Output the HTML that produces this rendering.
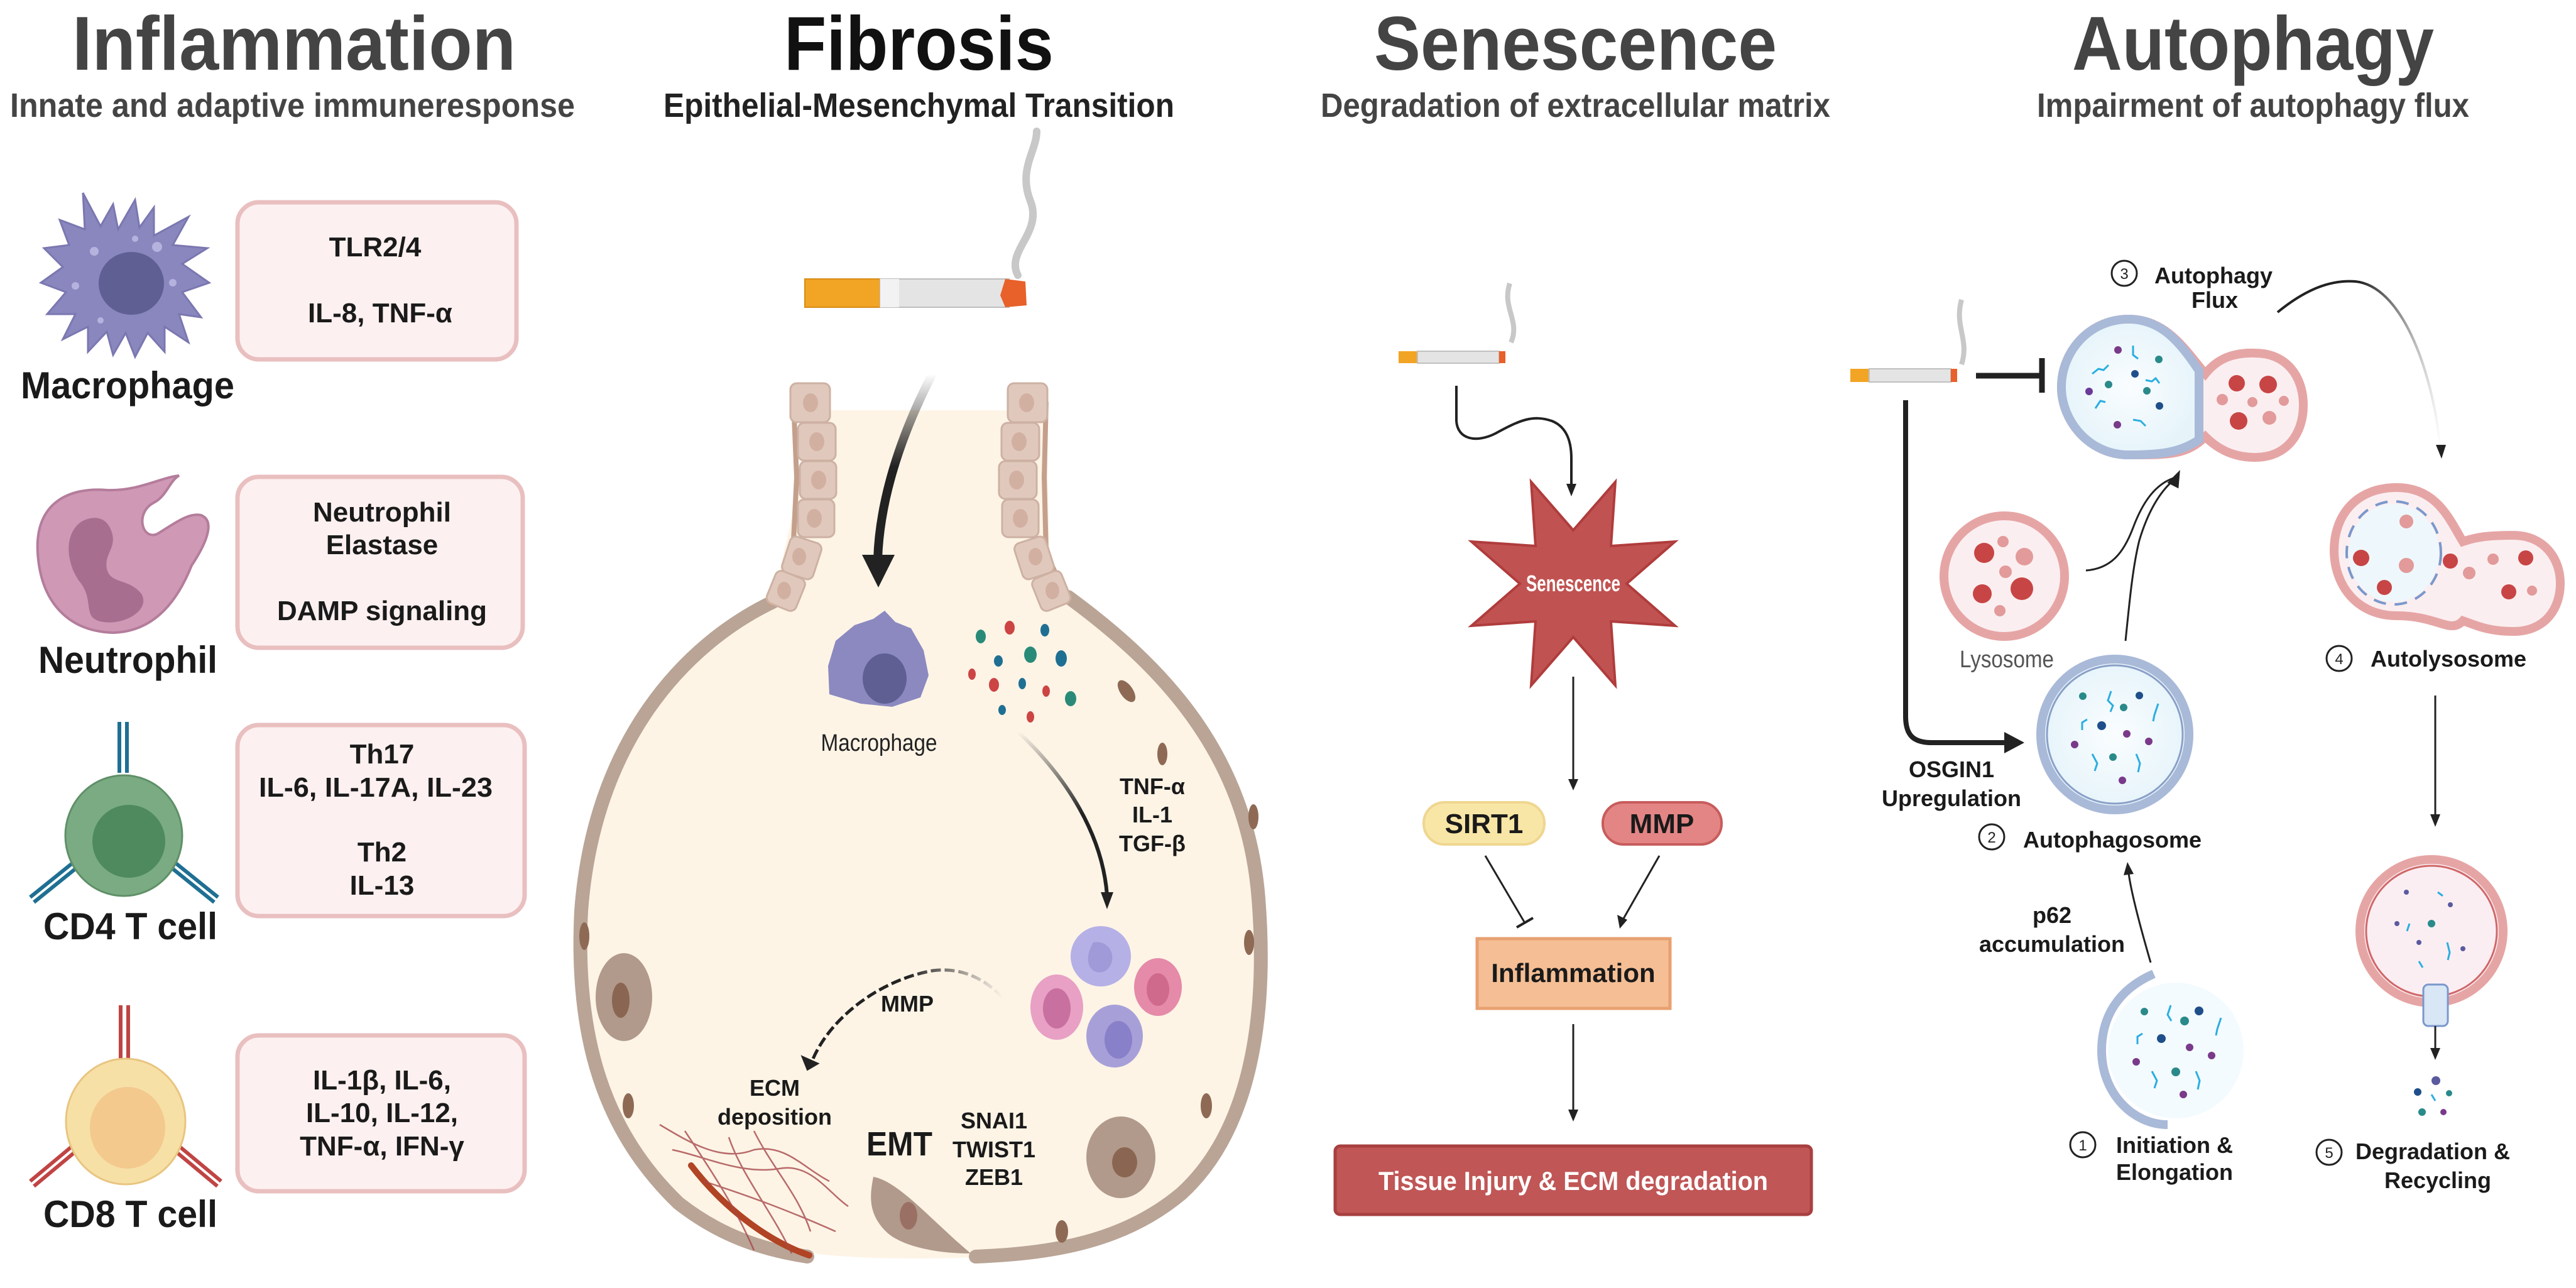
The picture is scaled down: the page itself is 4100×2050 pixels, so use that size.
<!DOCTYPE html>
<html><head><meta charset="utf-8"><style>
html,body{margin:0;padding:0;background:#fff}
svg{display:block}
text{font-family:"Liberation Sans",sans-serif}
.b{font-weight:bold;fill:#1a1a1a}
</style></head><body>
<svg width="4100" height="2050" viewBox="0 0 4100 2050" xmlns="http://www.w3.org/2000/svg">
<defs>
<linearGradient id="fadeA" x1="0" y1="0" x2="0" y2="1"><stop offset="0" stop-color="#222" stop-opacity="0"/><stop offset="0.5" stop-color="#222"/></linearGradient>
<linearGradient id="fadeB" x1="1" y1="0" x2="0" y2="0"><stop offset="0" stop-color="#222" stop-opacity="0"/><stop offset="0.5" stop-color="#222"/></linearGradient>
<radialGradient id="blueIn"><stop offset="0" stop-color="#fafdff"/><stop offset="1" stop-color="#e6f4fa"/></radialGradient>
</defs>

<!-- ===== TITLES ===== -->
<text x="115" y="111" font-size="122" font-weight="bold" fill="#444" textLength="706" lengthAdjust="spacingAndGlyphs">Inflammation</text>
<text x="16" y="186" font-size="54" font-weight="bold" fill="#444" textLength="899" lengthAdjust="spacingAndGlyphs">Innate and adaptive immuneresponse</text>
<text x="1248" y="111" font-size="122" font-weight="bold" fill="#111" textLength="429" lengthAdjust="spacingAndGlyphs">Fibrosis</text>
<text x="1056" y="186" font-size="54" font-weight="bold" fill="#222" textLength="813" lengthAdjust="spacingAndGlyphs">Epithelial-Mesenchymal Transition</text>
<text x="2187" y="111" font-size="122" font-weight="bold" fill="#444" textLength="641" lengthAdjust="spacingAndGlyphs">Senescence</text>
<text x="2102" y="186" font-size="54" font-weight="bold" fill="#444" textLength="811" lengthAdjust="spacingAndGlyphs">Degradation of extracellular matrix</text>
<text x="3298" y="111" font-size="122" font-weight="bold" fill="#444" textLength="576" lengthAdjust="spacingAndGlyphs">Autophagy</text>
<text x="3242" y="186" font-size="54" font-weight="bold" fill="#444" textLength="688" lengthAdjust="spacingAndGlyphs">Impairment of autophagy flux</text>

<!-- ===== INFLAMMATION COLUMN ===== -->
<!-- boxes -->
<g fill="#fdf0f0" stroke="#e9bfc0" stroke-width="7">
<rect x="378" y="322" width="444" height="250" rx="34"/>
<rect x="378" y="759" width="454" height="272" rx="34"/>
<rect x="378" y="1154" width="457" height="304" rx="34"/>
<rect x="378" y="1648" width="457" height="248" rx="34"/>
</g>
<g class="b" font-size="44" text-anchor="middle">
<text x="597" y="408">TLR2/4</text>
<text x="605" y="513">IL-8, TNF-α</text>
<text x="608" y="830">Neutrophil</text>
<text x="608" y="882">Elastase</text>
<text x="608" y="987">DAMP signaling</text>
<text x="608" y="1215">Th17</text>
<text x="598" y="1268" textLength="372" lengthAdjust="spacingAndGlyphs">IL-6, IL-17A, IL-23</text>
<text x="608" y="1371">Th2</text>
<text x="608" y="1424">IL-13</text>
<text x="608" y="1734">IL-1β, IL-6,</text>
<text x="608" y="1786">IL-10, IL-12,</text>
<text x="608" y="1839">TNF-α,  IFN-γ</text>
</g>
<g class="b" font-size="60">
<text x="33" y="634" textLength="340" lengthAdjust="spacingAndGlyphs">Macrophage</text>
<text x="61" y="1071" textLength="285" lengthAdjust="spacingAndGlyphs">Neutrophil</text>
<text x="69" y="1495" textLength="277" lengthAdjust="spacingAndGlyphs">CD4 T cell</text>
<text x="69" y="1953" textLength="277" lengthAdjust="spacingAndGlyphs">CD8 T cell</text>
</g>

<!-- macrophage big -->
<g>
<path d="M132,307 L160,360 L180,325 L188,365 L215,318 L222,362 L245,330 L245,375 L300,345 L275,390 L330,395 L290,420 L333,450 L290,465 L320,505 L285,500 L300,545 L262,520 L262,560 L235,530 L215,568 L200,530 L180,565 L170,528 L140,560 L140,520 L100,540 L120,500 L75,500 L105,465 L65,450 L100,425 L70,395 L110,390 L95,350 L135,365 Z" fill="#8a87bf" stroke="#7a77b0" stroke-width="3"/>
<ellipse cx="209" cy="451" rx="52" ry="50" fill="#5f5f94"/>
<g fill="#b5b3dd"><circle cx="150" cy="400" r="7"/><circle cx="250" cy="393" r="8"/><circle cx="120" cy="455" r="6"/><circle cx="275" cy="450" r="6"/><circle cx="215" cy="380" r="5"/><circle cx="160" cy="510" r="5"/></g>
</g>
<!-- neutrophil -->
<g>
<path d="M285,757 C270,765 265,790 245,800 C215,815 225,860 250,850 C275,835 300,815 320,820 C345,830 325,870 305,900 C285,950 250,1005 180,1007 C110,1005 65,960 60,880 C55,800 110,775 170,780 C220,782 255,760 285,757 Z" fill="#cf98b5" stroke="#b47d9b" stroke-width="4"/>
<path d="M130,830 C100,850 105,900 130,930 C150,960 130,985 165,990 C200,995 240,970 225,945 C205,920 175,930 170,905 C165,880 190,870 175,840 C165,820 145,822 130,830 Z" fill="#a86e8f"/>
</g>
<!-- CD4 -->
<g>
<g stroke="#1f6f93" stroke-width="6"><line x1="190" y1="1149" x2="190" y2="1230"/><line x1="202" y1="1149" x2="202" y2="1230"/>
<line x1="120" y1="1370" x2="48" y2="1428"/><line x1="126" y1="1378" x2="54" y2="1436"/>
<line x1="275" y1="1370" x2="347" y2="1428"/><line x1="269" y1="1378" x2="341" y2="1436"/></g>
<ellipse cx="197" cy="1330" rx="93" ry="96" fill="#7aab82" stroke="#5f9068" stroke-width="3"/>
<ellipse cx="205" cy="1339" rx="58" ry="58" fill="#4f8a5e"/>
</g>
<!-- CD8 -->
<g>
<g stroke="#c04444" stroke-width="6"><line x1="192" y1="1600" x2="192" y2="1688"/><line x1="204" y1="1600" x2="204" y2="1688"/>
<line x1="120" y1="1820" x2="48" y2="1880"/><line x1="126" y1="1828" x2="54" y2="1888"/>
<line x1="280" y1="1820" x2="352" y2="1880"/><line x1="274" y1="1828" x2="346" y2="1888"/></g>
<ellipse cx="200" cy="1785" rx="95" ry="100" fill="#f7e0a6" stroke="#e8c580" stroke-width="3"/>
<ellipse cx="203" cy="1795" rx="60" ry="65" fill="#f3c98e"/>
</g>

<!-- ===== FIBROSIS ===== -->
<!-- cigarette -->
<path d="M1620,438 C1600,400 1660,370 1640,320 C1620,270 1650,240 1650,209" fill="none" stroke="#c8c8c8" stroke-width="12" stroke-linecap="round"/>
<rect x="1281" y="444" width="120" height="45" fill="#f2a424" stroke="#d98c16" stroke-width="2"/>
<rect x="1401" y="444" width="205" height="45" fill="#e4e4e4" stroke="#bdbdbd" stroke-width="2"/>
<rect x="1401" y="444" width="30" height="45" fill="#f2f2f2"/>
<path d="M1600,444 L1632,448 L1634,486 L1600,489 L1592,470 Z" fill="#e8602a"/>

<!-- alveolus fill -->
<path d="M1300,653 L1665,653 L1672,940 C1850,1060 1985,1200 2005,1430 C2020,1620 1990,1800 1880,1900 C1780,1985 1650,2003 1460,2003 C1300,2003 1180,1990 1080,1920 C960,1800 915,1650 922,1450 C940,1180 1090,1020 1230,955 Z" fill="#fdf4e6"/>
<!-- walls -->
<g fill="none" stroke="#b9a496" stroke-width="22" stroke-linecap="round">
<path d="M1230,958 C1090,1025 945,1180 925,1450 C915,1650 960,1800 1080,1915 C1150,1970 1220,1990 1285,2000"/>
<path d="M1700,950 C1850,1060 1985,1200 2003,1430 C2018,1620 1990,1800 1880,1900 C1790,1975 1680,1995 1553,2000"/>
</g>
<path d="M1100,1855 C1150,1920 1220,1975 1288,1998" fill="none" stroke="#b04424" stroke-width="10" stroke-linecap="round"/>
<!-- neck walls -->
<path d="M1263,640 L1268,760 L1262,880 L1225,965" fill="none" stroke="#c4a08c" stroke-width="8"/>
<path d="M1665,640 L1662,760 L1665,880 L1700,955" fill="none" stroke="#c4a08c" stroke-width="8"/>
<g fill="#e0c9bc" stroke="#cdb1a3" stroke-width="3">
<rect x="1258" y="610" width="63" height="62" rx="10"/><rect x="1270" y="673" width="60" height="60" rx="10"/>
<rect x="1273" y="734" width="58" height="60" rx="10"/><rect x="1270" y="795" width="58" height="60" rx="10"/>
<rect x="1250" y="858" width="52" height="60" rx="10" transform="rotate(18 1276 888)"/><rect x="1226" y="913" width="50" height="55" rx="10" transform="rotate(22 1251 940)"/>
<rect x="1604" y="610" width="63" height="62" rx="10"/><rect x="1594" y="673" width="60" height="60" rx="10"/>
<rect x="1590" y="734" width="60" height="60" rx="10"/><rect x="1595" y="795" width="58" height="60" rx="10"/>
<rect x="1620" y="858" width="52" height="60" rx="10" transform="rotate(-18 1646 888)"/><rect x="1648" y="913" width="50" height="55" rx="10" transform="rotate(-22 1673 940)"/>
</g>
<g fill="#d2b0a1"><ellipse cx="1290" cy="641" rx="12" ry="15"/><ellipse cx="1300" cy="703" rx="12" ry="15"/><ellipse cx="1303" cy="764" rx="12" ry="15"/><ellipse cx="1296" cy="825" rx="12" ry="15"/><ellipse cx="1272" cy="886" rx="11" ry="14"/><ellipse cx="1248" cy="940" rx="11" ry="14"/>
<ellipse cx="1634" cy="641" rx="12" ry="15"/><ellipse cx="1622" cy="703" rx="12" ry="15"/><ellipse cx="1618" cy="764" rx="12" ry="15"/><ellipse cx="1624" cy="825" rx="12" ry="15"/><ellipse cx="1648" cy="886" rx="11" ry="14"/><ellipse cx="1675" cy="940" rx="11" ry="14"/></g>
<!-- wall nuclei -->
<g fill="#8e6a55"><ellipse cx="930" cy="1490" rx="8" ry="22"/><ellipse cx="1000" cy="1760" rx="9" ry="20"/><ellipse cx="1793" cy="1100" rx="10" ry="20" transform="rotate(-35 1793 1100)"/><ellipse cx="1995" cy="1300" rx="8" ry="20"/><ellipse cx="1988" cy="1500" rx="8" ry="20"/><ellipse cx="1920" cy="1760" rx="9" ry="20"/><ellipse cx="1690" cy="1960" rx="10" ry="18"/><ellipse cx="1850" cy="1200" rx="8" ry="18"/></g>

<!-- big arrow down -->
<path d="M1484,595 C1430,700 1400,800 1397,890" fill="none" stroke="url(#fadeA)" stroke-width="14"/>
<path d="M1372,883 L1424,883 L1398,935 Z" fill="#222"/>

<!-- macrophage small -->
<path d="M1408,972 L1425,990 L1450,1000 L1470,1035 L1478,1075 L1465,1110 L1420,1125 L1370,1120 L1320,1105 L1318,1060 L1330,1020 L1360,995 L1390,985 Z" fill="#8b89bf"/>
<ellipse cx="1408" cy="1080" rx="35" ry="40" fill="#5f5f94"/>
<!-- cytokine dots -->
<g><ellipse cx="1561" cy="1013" rx="8" ry="11" fill="#2a8a78"/><ellipse cx="1607" cy="999" rx="8" ry="11" fill="#c44"/><ellipse cx="1663" cy="1003" rx="7" ry="10" fill="#1f6f93"/>
<ellipse cx="1640" cy="1042" rx="10" ry="13" fill="#2a8a78"/><ellipse cx="1689" cy="1048" rx="9" ry="13" fill="#1f6f93"/><ellipse cx="1589" cy="1052" rx="7" ry="9" fill="#1f6f93"/>
<ellipse cx="1547" cy="1073" rx="6" ry="9" fill="#c44"/><ellipse cx="1582" cy="1090" rx="8" ry="11" fill="#c44"/><ellipse cx="1627" cy="1088" rx="6" ry="9" fill="#1f6f93"/><ellipse cx="1665" cy="1100" rx="6" ry="9" fill="#c44"/><ellipse cx="1704" cy="1112" rx="9" ry="12" fill="#2a8a78"/><ellipse cx="1595" cy="1130" rx="6" ry="8" fill="#1f6f93"/><ellipse cx="1640" cy="1141" rx="6" ry="9" fill="#c44"/></g>
<text x="1399" y="1195" font-size="38" fill="#222" text-anchor="middle" textLength="185" lengthAdjust="spacingAndGlyphs">Macrophage</text>
<!-- arrow to immune cells -->
<path d="M1621,1165 C1700,1240 1755,1330 1762,1425" fill="none" stroke="url(#fadeA)" stroke-width="6"/>
<path d="M1752,1420 L1772,1420 L1762,1447 Z" fill="#222"/>
<g class="b" font-size="36" text-anchor="middle"><text x="1834" y="1264">TNF-α</text><text x="1834" y="1309">IL-1</text><text x="1834" y="1355">TGF-β</text></g>
<!-- immune cluster -->
<ellipse cx="1752" cy="1522" rx="48" ry="48" fill="#b5b0e6"/><path d="M1740,1500 C1770,1495 1780,1530 1760,1545 C1740,1555 1720,1535 1740,1500Z" fill="#a09ad8"/>
<ellipse cx="1843" cy="1571" rx="38" ry="46" fill="#e58aa8"/><ellipse cx="1843" cy="1575" rx="18" ry="26" fill="#d06a8c"/>
<ellipse cx="1682" cy="1603" rx="42" ry="52" fill="#e8a0c4"/><ellipse cx="1682" cy="1605" rx="22" ry="32" fill="#c870a0"/>
<ellipse cx="1774" cy="1649" rx="45" ry="50" fill="#a7a0d8"/><ellipse cx="1780" cy="1655" rx="22" ry="30" fill="#8880c8"/>
<!-- MMP arrow -->
<path d="M1595,1587 C1560,1550 1520,1540 1484,1545 C1400,1560 1320,1620 1292,1690" fill="none" stroke="url(#fadeB)" stroke-width="5" stroke-dasharray="16 6"/>
<path d="M1280,1685 L1298,1693 L1286,1700 Z" fill="#222" stroke="#222" stroke-width="6"/>
<g class="b" font-size="36" text-anchor="middle"><text x="1444" y="1610">MMP</text><text x="1233" y="1744">ECM</text><text x="1233" y="1790">deposition</text>
<text x="1582" y="1796">SNAI1</text><text x="1582" y="1842">TWIST1</text><text x="1582" y="1886">ZEB1</text></g>
<text x="1379" y="1839" font-size="54" font-weight="bold" fill="#1a1a1a" textLength="105" lengthAdjust="spacingAndGlyphs">EMT</text>
<!-- fibers -->
<g fill="none" stroke="#a8484a" stroke-width="2.5" opacity="0.8">
<path d="M1050,1790 C1100,1820 1150,1850 1200,1830 C1250,1820 1280,1860 1320,1880"/>
<path d="M1070,1830 C1120,1840 1180,1870 1240,1860 C1290,1850 1320,1900 1350,1920"/>
<path d="M1090,1800 C1130,1860 1170,1920 1200,1990"/>
<path d="M1160,1810 C1180,1870 1230,1930 1260,1995"/>
<path d="M1120,1880 C1180,1900 1240,1920 1330,1960"/>
<path d="M1200,1800 C1230,1860 1270,1900 1290,1960"/>
</g>
<!-- fibroblast cells -->
<g fill="#b19a8b"><ellipse cx="993" cy="1587" rx="45" ry="70"/><ellipse cx="1784" cy="1842" rx="55" ry="65"/>
<path d="M1390,1873 C1430,1880 1480,1940 1545,1995 C1480,1995 1430,1980 1410,1960 C1380,1930 1385,1900 1390,1873Z"/></g>
<g fill="#8a6652"><ellipse cx="988" cy="1592" rx="14" ry="28"/><ellipse cx="1790" cy="1850" rx="20" ry="24"/><ellipse cx="1446" cy="1935" rx="14" ry="22" fill="#9b7064"/></g>

<!-- ===== SENESCENCE ===== -->
<path d="M2403,451 C2390,490 2420,510 2405,545" fill="none" stroke="#c8c8c8" stroke-width="8"/>
<rect x="2226" y="559" width="30" height="19" fill="#f2a424"/><rect x="2256" y="559" width="130" height="19" fill="#e4e4e4" stroke="#c0c0c0" stroke-width="2"/><rect x="2386" y="559" width="10" height="19" fill="#e8602a"/>
<path d="M2318,614 L2318,670 C2320,700 2350,705 2380,690 C2420,668 2440,660 2470,670 C2495,680 2501,705 2501,730 L2501,775" fill="none" stroke="#222" stroke-width="4"/>
<path d="M2493,770 L2509,770 L2501,790 Z" fill="#222"/>
<path d="M2437,767 L2504,844 L2571,767 L2564,869 L2666,862 L2589,929 L2666,996 L2564,989 L2571,1091 L2504,1014 L2437,1091 L2444,989 L2342,996 L2419,929 L2342,862 L2444,869 Z" fill="#c05352" stroke="#b03c3c" stroke-width="4"/>
<text x="2504" y="941" font-size="36" font-weight="bold" fill="#fff" text-anchor="middle" textLength="150" lengthAdjust="spacingAndGlyphs">Senescence</text>
<line x1="2504" y1="1077" x2="2504" y2="1245" stroke="#222" stroke-width="3"/><path d="M2496,1240 L2512,1240 L2504,1258 Z" fill="#222"/>
<rect x="2266" y="1277" width="192" height="67" rx="33" fill="#f8e6a6" stroke="#efd690" stroke-width="4"/>
<rect x="2551" y="1277" width="189" height="67" rx="33" fill="#e48585" stroke="#c85c5c" stroke-width="4"/>
<g class="b" font-size="44" text-anchor="middle"><text x="2362" y="1326">SIRT1</text><text x="2645" y="1326">MMP</text></g>
<line x1="2364" y1="1362" x2="2427" y2="1469" stroke="#222" stroke-width="3"/><line x1="2414" y1="1476" x2="2440" y2="1461" stroke="#222" stroke-width="4"/>
<line x1="2641" y1="1362" x2="2584" y2="1462" stroke="#222" stroke-width="3"/><path d="M2574,1456 L2590,1464 L2578,1478 Z" fill="#222"/>
<rect x="2351" y="1494" width="307" height="111" fill="#f5be94" stroke="#e8a070" stroke-width="5"/>
<text x="2504" y="1563" font-size="42" font-weight="bold" fill="#1a1a1a" text-anchor="middle">Inflammation</text>
<line x1="2504" y1="1630" x2="2504" y2="1770" stroke="#222" stroke-width="3"/><path d="M2496,1766 L2512,1766 L2504,1785 Z" fill="#222"/>
<rect x="2125" y="1824" width="758" height="109" rx="8" fill="#c05656" stroke="#a84040" stroke-width="5"/>
<text x="2504" y="1894" font-size="42" font-weight="bold" fill="#fff" text-anchor="middle" textLength="620" lengthAdjust="spacingAndGlyphs">Tissue Injury &amp; ECM degradation</text>

<!-- ===== AUTOPHAGY ===== -->
<path d="M3122,477 C3110,520 3135,540 3122,580" fill="none" stroke="#c8c8c8" stroke-width="8"/>
<rect x="2945" y="587" width="30" height="21" fill="#f2a424"/><rect x="2975" y="587" width="130" height="21" fill="#e4e4e4" stroke="#c0c0c0" stroke-width="2"/><rect x="3105" y="587" width="10" height="21" fill="#e8602a"/>
<line x1="3145" y1="598" x2="3250" y2="598" stroke="#222" stroke-width="9"/><line x1="3250" y1="570" x2="3250" y2="625" stroke="#222" stroke-width="9"/>
<path d="M3033,637 L3033,1140 C3033,1170 3045,1182 3075,1182 L3195,1182" fill="none" stroke="#222" stroke-width="8"/>
<path d="M3190,1165 L3222,1182 L3190,1199 Z" fill="#222"/>
<g class="b" font-size="36" text-anchor="middle"><text x="3106" y="1237">OSGIN1</text><text x="3106" y="1283">Upregulation</text>
<text x="3266" y="1469">p62</text><text x="3266" y="1515">accumulation</text>
<text x="3525" y="490">Flux</text><text x="3880" y="1891">Recycling</text></g>
<g class="b" font-size="36"><text x="3429" y="451">Autophagy</text><text x="3220" y="1349">Autophagosome</text><text x="3773" y="1061">Autolysosome</text>
<text x="3368" y="1835">Initiation &amp;</text><text x="3368" y="1878">Elongation</text><text x="3749" y="1845">Degradation &amp;</text></g>
<g fill="none" stroke="#222" stroke-width="3"><circle cx="3381" cy="435" r="20"/><circle cx="3170" cy="1332" r="20"/><circle cx="3723" cy="1048" r="20"/><circle cx="3315" cy="1822" r="20"/><circle cx="3707" cy="1834" r="20"/></g>
<g font-size="24" text-anchor="middle" fill="#222"><text x="3381" y="444">3</text><text x="3170" y="1341">2</text><text x="3723" y="1057">4</text><text x="3315" y="1831">1</text><text x="3707" y="1843">5</text></g>

<!-- fusion vesicle -->
<g>
<path d="M3388,508 C3450,508 3480,560 3510,595 C3530,570 3555,561 3589,562 C3640,562 3666,600 3666,645 C3666,690 3640,728 3589,728 C3555,728 3530,715 3510,695 C3480,725 3450,724 3388,724 C3325,724 3281,670 3281,616 C3281,560 3325,508 3388,508 Z" fill="#fbeef0" stroke="#e6a5a5" stroke-width="14"/>
<path d="M3388,508 C3440,508 3470,545 3500,590 L3500,700 C3470,720 3440,724 3388,724 C3325,724 3281,670 3281,616 C3281,560 3325,508 3388,508 Z" fill="url(#blueIn)" stroke="#a9b9d8" stroke-width="14"/>
<g fill="#c84545"><circle cx="3560" cy="610" r="13"/><circle cx="3610" cy="612" r="14"/><circle cx="3563" cy="670" r="14"/><circle cx="3612" cy="665" r="11" fill="#e29a9a"/><circle cx="3537" cy="636" r="9" fill="#e29a9a"/><circle cx="3585" cy="640" r="8" fill="#e29a9a"/><circle cx="3635" cy="638" r="8" fill="#e29a9a"/></g>
<g fill="#2a8a8a"><circle cx="3436" cy="572" r="6"/><circle cx="3417" cy="622" r="6"/><circle cx="3356" cy="612" r="6"/><circle cx="3398" cy="595" r="6" fill="#1f4f8a"/><circle cx="3437" cy="646" r="6" fill="#1f4f8a"/><circle cx="3371" cy="557" r="6" fill="#7a3a8a"/><circle cx="3325" cy="623" r="6" fill="#6a3a9a"/><circle cx="3370" cy="676" r="6" fill="#7a3a8a"/></g>
<g fill="none" stroke="#2aaee0" stroke-width="3"><path d="M3330,595 l10,-8 l8,2 l8,-8"/><path d="M3335,650 l8,-12 l8,2"/><path d="M3395,668 l12,2 l8,8"/><path d="M3415,605 l10,2 l6,-5 l6,8"/><path d="M3395,550 l0,15 l8,6"/></g>
</g>
<!-- flux arrow -->
<path d="M3625,497 C3670,460 3710,445 3749,448 C3820,455 3870,580 3885,715" fill="none" stroke="url(#fadeB)" stroke-width="4"/>
<path d="M3877,708 L3893,708 L3886,730 Z" fill="#222"/>
<!-- autolysosome -->
<g>
<path d="M3815,776 C3880,776 3900,830 3920,862 C3940,855 3960,852 4000,852 C4050,852 4075,890 4075,928 C4075,970 4050,1005 4000,1005 C3960,1005 3940,995 3920,988 C3900,1010 3880,980 3815,980 C3750,980 3715,930 3715,876 C3715,820 3750,776 3815,776 Z" fill="#fbeef0" stroke="#e6a5a5" stroke-width="14"/>
<ellipse cx="3810" cy="880" rx="72" ry="78" fill="#eef8fc"/>
<g fill="none" stroke="#7a98cc" stroke-width="4" stroke-dasharray="20 14"><ellipse cx="3810" cy="880" rx="75" ry="82"/></g>
<g fill="#c84545"><circle cx="3758" cy="888" r="13"/><circle cx="3795" cy="935" r="12"/><circle cx="3900" cy="893" r="12"/><circle cx="4020" cy="888" r="12"/><circle cx="3993" cy="942" r="12"/><circle cx="3830" cy="830" r="11" fill="#e29a9a"/><circle cx="3830" cy="900" r="12" fill="#e29a9a"/><circle cx="3930" cy="912" r="10" fill="#e29a9a"/><circle cx="3968" cy="890" r="9" fill="#e29a9a"/><circle cx="4030" cy="940" r="8" fill="#e29a9a"/></g>
</g>
<!-- lysosome -->
<ellipse cx="3190" cy="917" rx="96" ry="96" fill="#fbeef0" stroke="#e6a5a5" stroke-width="14"/>
<g fill="#c84545"><circle cx="3158" cy="880" r="16"/><circle cx="3155" cy="945" r="15"/><circle cx="3218" cy="937" r="18"/><circle cx="3222" cy="886" r="14" fill="#e29a9a"/><circle cx="3192" cy="910" r="10" fill="#e29a9a"/><circle cx="3188" cy="862" r="9" fill="#e29a9a"/><circle cx="3183" cy="972" r="9" fill="#e29a9a"/></g>
<text x="3194" y="1062" font-size="38" fill="#555" text-anchor="middle" textLength="150" lengthAdjust="spacingAndGlyphs">Lysosome</text>
<path d="M3320,908 C3360,905 3380,880 3395,840 C3410,800 3430,770 3462,760" fill="none" stroke="#222" stroke-width="3"/>
<path d="M3383,1020 C3390,950 3395,900 3405,860 C3420,810 3440,780 3462,762" fill="none" stroke="#222" stroke-width="3"/>
<path d="M3452,768 L3468,752 L3466,775 Z" fill="#222" stroke="#222" stroke-width="3"/>
<!-- autophagosome -->
<ellipse cx="3366" cy="1169" rx="118" ry="120" fill="url(#blueIn)" stroke="#a9b9d8" stroke-width="14"/>
<ellipse cx="3366" cy="1169" rx="108" ry="110" fill="none" stroke="#8aa0c8" stroke-width="3"/>
<g fill="#2a8a8a"><circle cx="3315" cy="1108" r="6"/><circle cx="3380" cy="1126" r="6"/><circle cx="3363" cy="1205" r="6"/><circle cx="3345" cy="1155" r="7" fill="#1f4f8a"/><circle cx="3405" cy="1107" r="6" fill="#1f4f8a"/><circle cx="3385" cy="1168" r="6" fill="#7a3a8a"/><circle cx="3302" cy="1185" r="6" fill="#7a3a8a"/><circle cx="3420" cy="1180" r="6" fill="#7a3a8a"/><circle cx="3378" cy="1242" r="6" fill="#7a3a8a"/></g>
<g fill="none" stroke="#2aaee0" stroke-width="3"><path d="M3360,1100 l-5,15 l8,8 l-4,10"/><path d="M3322,1145 l-8,5 l0,12"/><path d="M3330,1200 l8,15 l-4,12"/><path d="M3400,1200 l6,15 l-3,14"/><path d="M3435,1120 l-6,18 l-2,10"/></g>
<!-- p62 arrow -->
<path d="M3423,1532 C3405,1470 3392,1420 3388,1390" fill="none" stroke="#222" stroke-width="3"/><path d="M3380,1393 L3396,1391 L3386,1372 Z" fill="#222"/>
<!-- phagophore -->
<circle cx="3463" cy="1672" r="108" fill="#f4fbfe"/>
<path d="M3428,1550 C3370,1575 3345,1620 3345,1672 C3345,1740 3395,1790 3450,1790" fill="none" stroke="#a9b9d8" stroke-width="14"/>
<g fill="#2a8a8a"><circle cx="3413" cy="1610" r="6"/><circle cx="3477" cy="1625" r="7"/><circle cx="3463" cy="1706" r="7"/><circle cx="3440" cy="1653" r="7" fill="#1f4f8a"/><circle cx="3500" cy="1609" r="7" fill="#1f4f8a"/><circle cx="3485" cy="1667" r="6" fill="#7a3a8a"/><circle cx="3400" cy="1690" r="6" fill="#7a3a8a"/><circle cx="3520" cy="1680" r="6" fill="#7a3a8a"/><circle cx="3475" cy="1742" r="6" fill="#7a3a8a"/></g>
<g fill="none" stroke="#2aaee0" stroke-width="3"><path d="M3455,1600 l-5,15 l6,10"/><path d="M3410,1645 l-8,5 l0,12"/><path d="M3425,1705 l8,15 l-4,12"/><path d="M3495,1705 l6,15 l-3,14"/><path d="M3535,1620 l-6,18 l-2,10"/></g>
<!-- arrow 4 to 5 -->
<line x1="3876" y1="1107" x2="3876" y2="1300" stroke="#222" stroke-width="3"/><path d="M3868,1296 L3884,1296 L3876,1316 Z" fill="#222"/>
<!-- degradation vesicle -->
<ellipse cx="3870" cy="1482" rx="114" ry="114" fill="#fbeef3" stroke="#e6a5a5" stroke-width="14"/>
<ellipse cx="3870" cy="1482" rx="104" ry="104" fill="none" stroke="#d06868" stroke-width="3"/>
<g fill="#5a5aa0"><circle cx="3830" cy="1420" r="4"/><circle cx="3900" cy="1440" r="4"/><circle cx="3850" cy="1500" r="4"/><circle cx="3920" cy="1510" r="4"/><circle cx="3870" cy="1470" r="6" fill="#2a8a8a"/><circle cx="3815" cy="1470" r="4"/></g>
<g fill="none" stroke="#2aaee0" stroke-width="3"><path d="M3880,1420 l8,6"/><path d="M3835,1470 l-4,12"/><path d="M3895,1500 l4,16 l-3,12"/><path d="M3850,1530 l6,10"/></g>
<rect x="3857" y="1567" width="39" height="66" rx="8" fill="#d8e6f5" stroke="#7a98cc" stroke-width="3"/>
<line x1="3876" y1="1633" x2="3876" y2="1672" stroke="#222" stroke-width="3"/><path d="M3868,1668 L3884,1668 L3876,1687 Z" fill="#222"/>
<g><circle cx="3877" cy="1720" r="7" fill="#5a5aa0"/><circle cx="3848" cy="1738" r="6" fill="#1f4f8a"/><circle cx="3898" cy="1740" r="5" fill="#2a8a8a"/><circle cx="3855" cy="1770" r="6" fill="#2a8a8a"/><circle cx="3889" cy="1770" r="5" fill="#7a3a8a"/><path d="M3870,1742 l6,10" stroke="#2aaee0" stroke-width="3"/></g>
</svg>
</body></html>
